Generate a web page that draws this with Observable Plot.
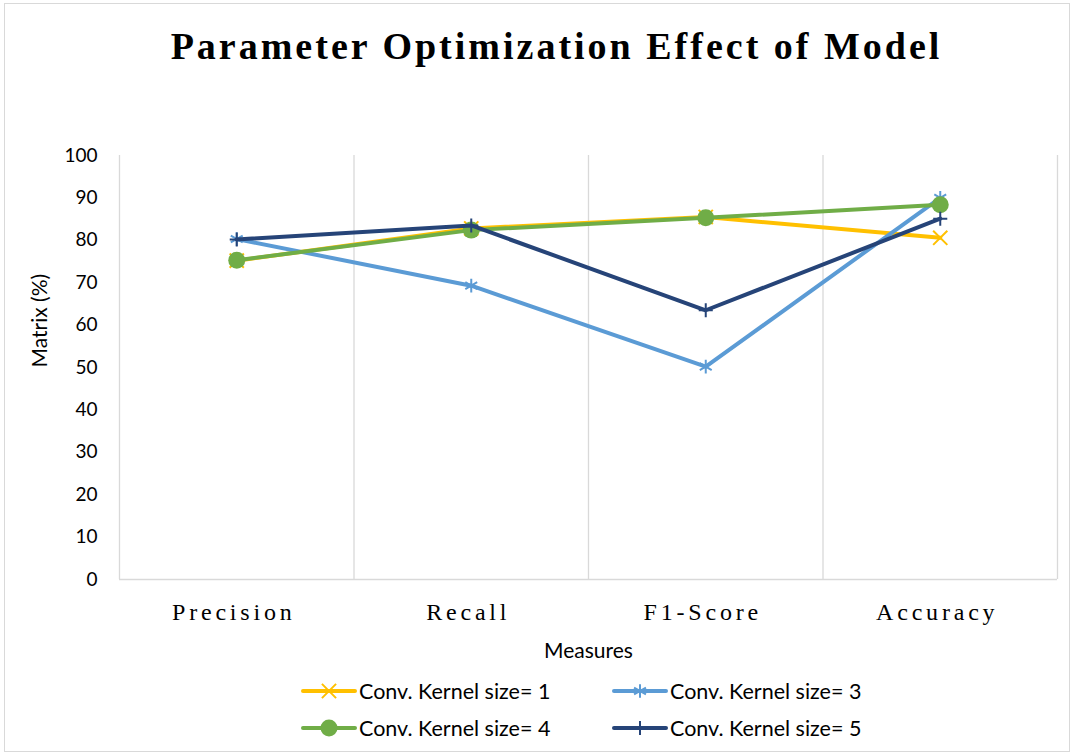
<!DOCTYPE html>
<html>
<head>
<meta charset="utf-8">
<script src="https://cdn.jsdelivr.net/npm/d3@7"></script>
<script src="https://cdn.jsdelivr.net/npm/@observablehq/plot@0.6"></script>
<style>
  html, body { margin: 0; padding: 0; background: #fff; }
  #wrap { position: relative; width: 1075px; height: 755px; overflow: hidden; }
  #border { position: absolute; left: 4px; top: 3px; width: 1066px; height: 749px; border: 1px solid #d9d9d9; box-sizing: border-box; }
  #title { position: absolute; left: 0; width: 1113px; top: 24px; text-align: center;
           font-family: "Liberation Serif", serif; font-weight: bold; font-size: 38px; letter-spacing: 3px; color: #000; }
  #chart { position: absolute; left: 0; top: 0; }
  .leg { position: absolute; font-family: Lato, sans-serif; font-size: 21.5px; color: #000; display: flex; align-items: center; white-space: nowrap; }
  .leg svg { margin-right: 2px; }
</style>
</head>
<body>
<div id="wrap">
  <div id="border"></div>
  <div id="chart"></div>
  <div id="title">Parameter Optimization Effect of Model</div>
  <div id="legend"></div>
</div>
<script>
const measures = ["Precision", "Recall", "F1-Score", "Accuracy"];
const seriesNames = ["Conv. Kernel size= 1", "Conv. Kernel size= 3", "Conv. Kernel size= 4", "Conv. Kernel size= 5"];
const kernel1 = [75.2, 82.8, 85.5, 80.6];
const kernel3 = [80.3, 69.3, 50.2, 90.0];
const kernel4 = [75.3, 82.4, 85.3, 88.4];
const kernel5 = [80.2, 83.5, 63.5, 85.1];
const yTicks = [0, 10, 20, 30, 40, 50, 60, 70, 80, 90, 100];
const colors = ["#FFC000", "#5B9BD5", "#70AD47", "#264478"];
const symbols = ["times", "asterisk", "circle", "plus"];
const radii = [6.5, 6.5, 8.5, 4.6];

const allSeries = [kernel1, kernel3, kernel4, kernel5];
const rows = [];
allSeries.forEach((vals, s) => {
  vals.forEach((v, i) => rows.push({series: seriesNames[s], s, measure: measures[i], xi: i + 0.5, value: v}));
});

const marks = [
  Plot.ruleX([1, 2, 3, 4], {stroke: "#d9d9d9", strokeWidth: 1.3}),
  Plot.ruleX([0], {stroke: "#d9d9d9", strokeWidth: 1.3}),
  Plot.ruleY([0], {stroke: "#d9d9d9", strokeWidth: 1.3}),
  Plot.axisY({ticks: yTicks, tickSize: 0, tickPadding: 22, fontSize: 19, fontFamily: "Lato, sans-serif",
              label: null}),
  Plot.axisX({ticks: measures.map((d, i) => i + 0.5), tickFormat: t => measures[Math.round(t - 0.5)],
              tickSize: 0, tickPadding: 23, dx: -3, fontSize: 24, fontFamily: "Liberation Serif, serif",
              label: null}),
  Plot.text(["Matrix (%)"], {frameAnchor: "left", rotate: -90, dx: -79, fontSize: 21, fontFamily: "Lato, sans-serif", fill: "#000"}),
  Plot.text(["Measures"], {frameAnchor: "bottom", dy: 78, fontSize: 21, fontFamily: "Lato, sans-serif", fill: "#000"})
];
allSeries.forEach((vals, s) => {
  const data = rows.filter(d => d.s === s);
  marks.push(Plot.line(data, {x: "xi", y: "value", stroke: colors[s], strokeWidth: 4, strokeLinejoin: "round"}));
  if (symbols[s] === "circle") {
    marks.push(Plot.dot(data, {x: "xi", y: "value", r: radii[s], symbol: "circle", fill: colors[s], stroke: "none"}));
  } else {
    marks.push(Plot.dot(data, {x: "xi", y: "value", r: radii[s], symbol: symbols[s], stroke: colors[s], strokeWidth: 2}));
  }
});

const chart = Plot.plot({
  width: 1075,
  height: 755,
  marginTop: 155,
  marginBottom: 176,
  marginLeft: 119,
  marginRight: 18,
  x: {type: "linear", domain: [0, 4]},
  y: {type: "linear", domain: [0, 100]},
  style: {fontFamily: "Lato, sans-serif", fontSize: "19px", color: "#000", background: "transparent"},
  marks
});
document.getElementById("chart").appendChild(chart);

d3.select(chart).selectAll("[aria-label='x-axis tick label'] text").style("letter-spacing", "3.8px");

// Legend
const legendPos = [[301, 691], [612, 691], [301, 728], [612, 728]];
const legend = document.getElementById("legend");
seriesNames.forEach((name, s) => {
  const div = document.createElement("div");
  div.className = "leg";
  div.style.left = legendPos[s][0] + "px";
  div.style.top = (legendPos[s][1] - 13) + "px";
  const w = 56, h = 26, cx = w / 2, cy = h / 2;
  const svg = d3.create("svg").attr("width", w).attr("height", h);
  svg.append("line").attr("x1", 2).attr("x2", w - 2).attr("y1", cy).attr("y2", cy)
     .attr("stroke", colors[s]).attr("stroke-width", 4).attr("stroke-linecap", "round");
  const sym = {times: d3.symbolTimes, asterisk: d3.symbolAsterisk, circle: d3.symbolCircle, plus: d3.symbolPlus}[symbols[s]];
  const size = Math.PI * radii[s] * radii[s];
  const p = svg.append("path").attr("d", d3.symbol(sym, size)()).attr("transform", `translate(${cx},${cy})`);
  if (symbols[s] === "circle") p.attr("fill", colors[s]);
  else p.attr("fill", "none").attr("stroke", colors[s]).attr("stroke-width", 2);
  div.appendChild(svg.node());
  const span = document.createElement("span");
  span.textContent = name;
  div.appendChild(span);
  legend.appendChild(div);
});
</script>
</body>
</html>
